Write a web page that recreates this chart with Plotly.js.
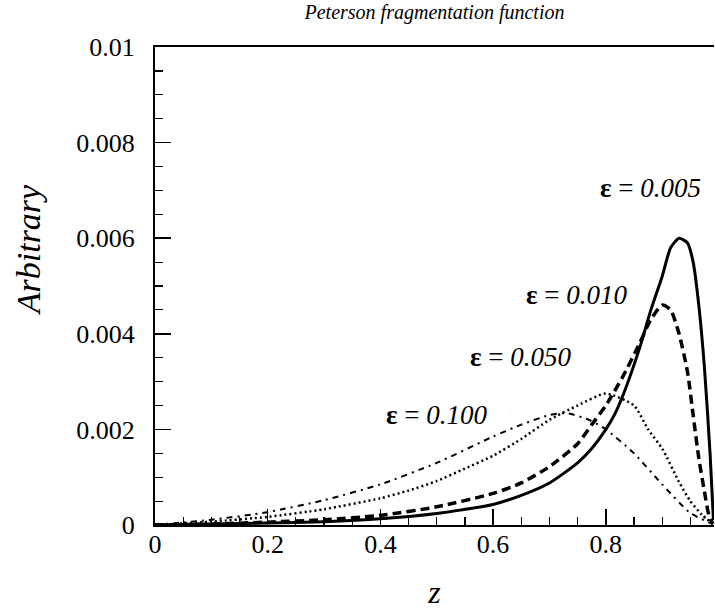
<!DOCTYPE html>
<html>
<head>
<meta charset="utf-8">
<script src="https://cdn.plot.ly/plotly-3.0.1.min.js"></script>
<style>html,body{margin:0;padding:0;background:#fff;}#chart{width:715px;height:615px;}</style>
</head>
<body>
<div id="chart"></div>
<script>
// epsilon = 0.005 (solid)
var z005 = [0, 0.1, 0.2, 0.3, 0.4, 0.5, 0.6, 0.65, 0.7, 0.75, 0.775, 0.8, 0.815, 0.83, 0.86, 0.88, 0.9, 0.915, 0.93, 0.945, 0.955, 0.965, 0.975, 0.985, 0.991];
var y005 = [0, 0.00002, 0.00004, 0.00007, 0.00013, 0.00024, 0.00043, 0.00062, 0.00088, 0.0013, 0.0016, 0.0020, 0.0023, 0.0027, 0.0037, 0.0045, 0.0052, 0.0058, 0.0060, 0.0059, 0.0055, 0.0046, 0.0033, 0.0015, 0.0001];
// epsilon = 0.010 (dashed)
var z010 = [0, 0.1, 0.2, 0.3, 0.4, 0.5, 0.6, 0.65, 0.7, 0.75, 0.775, 0.8, 0.83, 0.86, 0.88, 0.9, 0.915, 0.93, 0.945, 0.955, 0.965, 0.975, 0.983, 0.99];
var y010 = [0, 0.00002, 0.00006, 0.00011, 0.0002, 0.00038, 0.00066, 0.00088, 0.00122, 0.0017, 0.0021, 0.0025, 0.0031, 0.0038, 0.0043, 0.0046, 0.0045, 0.0040, 0.0032, 0.0023, 0.0014, 0.0007, 0.0002, 0.00002];
// epsilon = 0.050 (dotted)
var z050 = [0, 0.1, 0.2, 0.3, 0.4, 0.45, 0.5, 0.55, 0.6, 0.65, 0.7, 0.75, 0.8, 0.85, 0.875, 0.9, 0.93, 0.95, 0.97, 0.99];
var y050 = [0, 0.00007, 0.00017, 0.00033, 0.00056, 0.00072, 0.00092, 0.00118, 0.00145, 0.0018, 0.0022, 0.0025, 0.00275, 0.0025, 0.0020, 0.0016, 0.0009, 0.0005, 0.00022, 0.00002];
// epsilon = 0.100 (dash-dot)
var z100 = [0, 0.1, 0.2, 0.3, 0.4, 0.5, 0.6, 0.65, 0.7, 0.73, 0.77, 0.8, 0.85, 0.9, 0.95, 0.99];
var y100 = [0, 0.00011, 0.00027, 0.00052, 0.00085, 0.0013, 0.00185, 0.0021, 0.0023, 0.00234, 0.0022, 0.0020, 0.0015, 0.00085, 0.00025, 0.00002];

var labels = ["<b>ε</b> = <i>0.005</i>", "<b>ε</b> = <i>0.010</i>", "<b>ε</b> = <i>0.050</i>", "<b>ε</b> = <i>0.100</i>"];
var labelX = [0.88, 0.748, 0.65, 0.50];
var labelY = [0.00705, 0.00482, 0.00351, 0.00230];

var serif = "'Liberation Serif', 'Times New Roman', serif";

var traces = [
  {x: z005, y: y005, mode: "lines", line: {color: "#000", width: 3, shape: "spline", smoothing: 0.6}},
  {x: z010, y: y010, mode: "lines", line: {color: "#000", width: 3.5, dash: "9px,5px", shape: "spline", smoothing: 0.6}},
  {x: z050, y: y050, mode: "lines", line: {color: "#000", width: 2.5, dash: "2px,3px", shape: "spline", smoothing: 0.6}},
  {x: z100, y: y100, mode: "lines", line: {color: "#000", width: 2, dash: "6px,5px,2px,5px", shape: "spline", smoothing: 0.6}}
];

var annotations = labels.map(function (t, i) {
  return {x: labelX[i], y: labelY[i], xref: "x", yref: "y", text: t, showarrow: false,
          font: {family: serif, size: 27, color: "#000"}, xanchor: "center", yanchor: "middle"};
});
annotations.push({x: -0.227, y: 0.575, xref: "paper", yref: "paper", text: "<i>Arbitrary</i>", textangle: -90,
  showarrow: false, font: {family: serif, size: 34, color: "#000"}, xanchor: "center", yanchor: "middle"});

var layout = {
  width: 715, height: 615,
  margin: {l: 155, r: 1, t: 47, b: 90},
  paper_bgcolor: "#fff", plot_bgcolor: "#fff",
  showlegend: false,
  font: {family: serif, color: "#000"},
  title: {text: "<i>Peterson fragmentation function</i>", font: {family: serif, size: 20, color: "#000"},
          x: 0.5, xref: "paper", y: 0.981, yref: "container", yanchor: "middle"},
  xaxis: {
    range: [0, 0.992], dtick: 0.2, tick0: 0, showgrid: false, zeroline: false,
    showline: true, linecolor: "#000", linewidth: 2, mirror: true,
    ticks: "inside", ticklen: 16, tickwidth: 1.5, tickcolor: "#000",
    minor: {dtick: 0.05, ticks: "inside", ticklen: 8, tickwidth: 1.2, tickcolor: "#000"},
    tickfont: {family: serif, size: 26, color: "#000"},
    ticklabelstandoff: -5,
    title: {text: "<i>z</i>", font: {family: serif, size: 32, color: "#000"}, standoff: 22}
  },
  yaxis: {
    range: [0, 0.01], dtick: 0.002, tick0: 0, showgrid: false, zeroline: false,
    showline: true, linecolor: "#000", linewidth: 2,
    ticks: "inside", ticklen: 16, tickwidth: 1.5, tickcolor: "#000",
    minor: {dtick: 0.0005, ticks: "inside", ticklen: 8, tickwidth: 1.2, tickcolor: "#000"},
    tickfont: {family: serif, size: 26, color: "#000"},
    ticklabelstandoff: 13
  },
  annotations: annotations
};

Plotly.newPlot("chart", traces, layout, {staticPlot: true, displayModeBar: false});
</script>
</body>
</html>
